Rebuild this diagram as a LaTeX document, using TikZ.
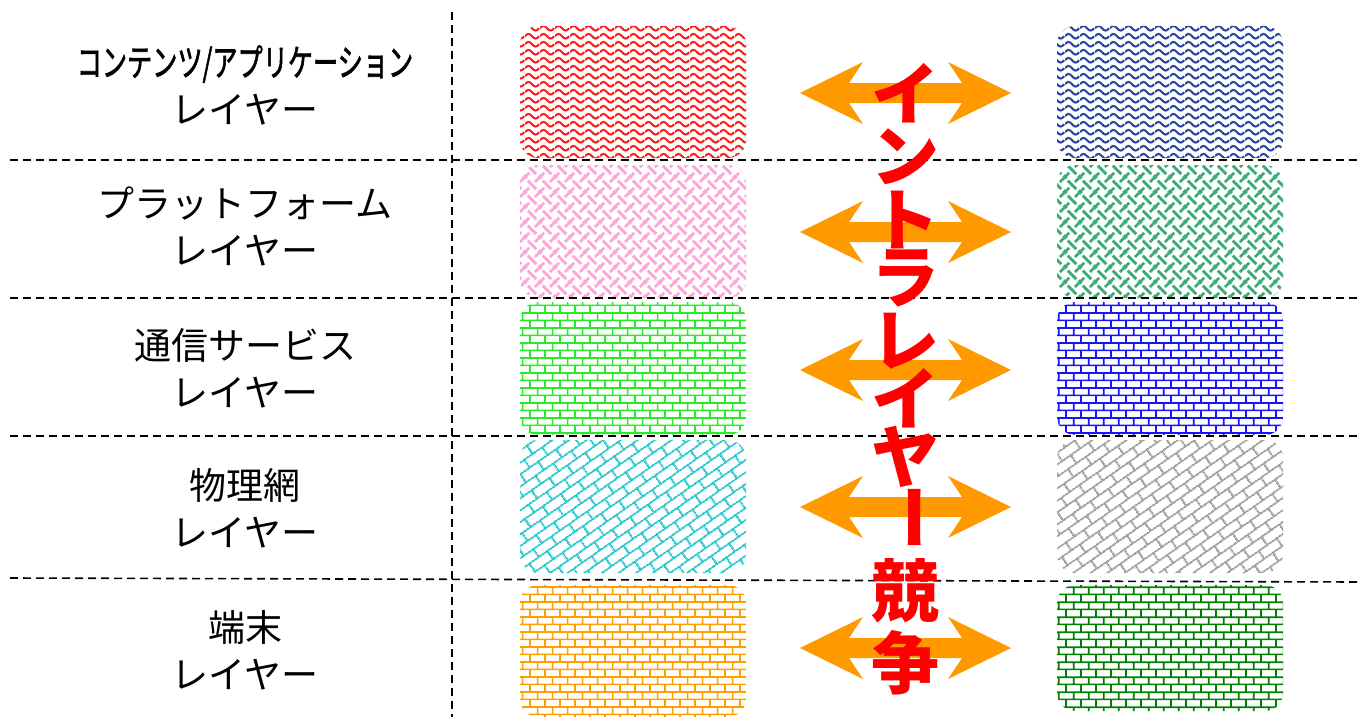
\documentclass[tikz,border=0pt]{standalone}
\usepackage{fontspec}
\newfontfamily\cjk{Noto Sans CJK JP}
\newfontfamily\cjkmed[FakeBold=2]{Noto Sans CJK JP}
\usetikzlibrary{patterns.meta}

\definecolor{wavered}{RGB}{255,30,30}
\definecolor{wavenavy}{RGB}{40,70,160}
\definecolor{weavepink}{RGB}{255,165,215}
\definecolor{weavegreen}{RGB}{60,170,120}
\definecolor{brickgreen}{RGB}{40,235,40}
\definecolor{brickblue}{RGB}{20,20,255}
\definecolor{diagcyan}{RGB}{40,200,205}
\definecolor{diaggray}{RGB}{160,160,160}
\definecolor{brickorange}{RGB}{255,160,0}
\definecolor{brickdkgreen}{RGB}{0,128,0}
\definecolor{arrowor}{RGB}{255,153,0}
\definecolor{textred}{RGB}{255,0,0}

\tikzdeclarepattern{
  name=wavep,
  type=uncolored,
  bottom left={(0pt,0pt)},
  top right={(15pt,8.2pt)},
  tile size={(15pt,8.2pt)},
  code={
    \draw[line width=2.2pt] (0pt,4.1pt) sin (3.75pt,6.7pt) cos (7.5pt,4.1pt) sin (11.25pt,1.5pt) cos (15pt,4.1pt);
  }
}

\tikzdeclarepattern{
  name=weavep,
  type=uncolored,
  bottom left={(0pt,0pt)},
  top right={(15pt,15pt)},
  tile size={(15pt,15pt)},
  code={
    \foreach \dx in {-15,0,15}{\foreach \dy in {-15,0,15}{
      \draw[line width=2.9pt,shift={(\dx pt,\dy pt)}] (0pt,0pt)--(4.5pt,4.5pt) (10.5pt,10.5pt)--(15pt,15pt) (3pt,12pt)--(12pt,3pt);
    }}
  }
}

\tikzdeclarepattern{
  name=brickp,
  type=uncolored,
  bottom left={(0pt,0pt)},
  top right={(15.3pt,15.2pt)},
  tile size={(15.3pt,15.2pt)},
  code={
    \draw[line width=1.8pt] (-1pt,3.8pt)--(16.3pt,3.8pt) (-1pt,11.4pt)--(16.3pt,11.4pt)
      (3.8pt,3.8pt)--(3.8pt,11.4pt) (11.45pt,11.4pt)--(11.45pt,16.2pt) (11.45pt,-1pt)--(11.45pt,3.8pt);
  }
}

\tikzdeclarepattern{
  name=diagbrickp,
  type=uncolored,
  bottom left={(0pt,0pt)},
  top right={(22pt,20pt)},
  tile size={(22pt,20pt)},
  tile transformation={rotate=35},
  code={
    \draw[line width=1.9pt] (-1pt,5pt)--(23pt,5pt) (-1pt,15pt)--(23pt,15pt)
      (5.5pt,5pt)--(5.5pt,15pt) (16.5pt,15pt)--(16.5pt,21pt) (16.5pt,-1pt)--(16.5pt,5pt);
  }
}

\tikzset{
  box/.style={rectangle, rounded corners=18pt, minimum width=226pt, inner sep=0pt, draw=none},
  lab/.style={align=center, inner sep=0pt, font=\cjk\fontsize{37}{47}\selectfont},
  redch/.style={inner sep=0pt, text=textred, font=\cjk\bfseries\fontsize{68}{68}\selectfont},
  sep/.style={line width=1.6pt, dash pattern=on 8pt off 5pt},
  dblarrow/.pic={
    \fill[arrowor] (-105.5,0) -- (-42.5,-31) -- (-56.5,-10) -- (56.5,-10) -- (42.5,-31)
      -- (105.5,0) -- (42.5,31) -- (56.5,10) -- (-56.5,10) -- (-42.5,31) -- cycle;
  }
}

\begin{document}
\begin{tikzpicture}[x=1pt,y=-1pt]
\useasboundingbox (0,0) rectangle (1359,717);
\fill[white] (0,0) rectangle (1359,717);

% pattern boxes
\node[box, minimum height=132pt, pattern=wavep, pattern color=wavered] (L1) at (633,92) {};
\node[box, minimum height=132pt, pattern=wavep, pattern color=wavenavy] (R1) at (1170,92) {};
\node[box, minimum height=133pt, pattern=weavep, pattern color=weavepink] (L2) at (633,231.5) {};
\node[box, minimum height=133pt, pattern=weavep, pattern color=weavegreen] (R2) at (1170,231.5) {};
\node[box, minimum height=133pt, pattern=brickp, pattern color=brickgreen] (L3) at (633,368.5) {};
\node[box, minimum height=133pt, pattern=brickp, pattern color=brickblue] (R3) at (1170,368.5) {};
\node[box, minimum height=133pt, pattern=diagbrickp, pattern color=diagcyan] (L4) at (633,506.5) {};
\node[box, minimum height=133pt, pattern=diagbrickp, pattern color=diaggray] (R4) at (1170,506.5) {};
\node[box, minimum height=132pt, pattern=brickp, pattern color=brickorange] (L5) at (633,651) {};
\node[box, minimum height=126pt, pattern=brickp, pattern color=brickdkgreen] (R5) at (1170,648) {};

% separators
\draw[sep] (452,12) -- (452,717);
\draw[sep] (10,160) -- (1359,160);
\draw[sep] (10,298) -- (1359,298);
\draw[sep] (10,436) -- (1359,436);
\draw[sep] (10,578) -- (1359,582);

% labels
\node[lab] (T1) at (245,85) {\scalebox{0.68}[1]{\cjkmed コンテンツ/アプリケーション}\\レイヤー};
\node[lab] (T2) at (245,226.5) {プラットフォーム\\レイヤー};
\node[lab] (T3) at (245,368.5) {通信サービス\\レイヤー};
\node[lab] (T4) at (245,508.5) {物理網\\レイヤー};
\node[lab] (T5) at (245,650) {端末\\レイヤー};

% arrows
\pic (A1) at (905.5,93) {dblarrow};
\pic (A2) at (905.5,232) {dblarrow};
\pic (A3) at (905.5,370) {dblarrow};
\pic (A4) at (905.5,507) {dblarrow};
\pic (A5) at (905.5,648) {dblarrow};

% vertical red text
\node[redch] (C0) at (905,93) {イ};
\node[redch] (C1) at (905,157) {ン};
\node[redch] (C2) at (905,220) {ト};
\node[redch] (C3) at (905,278) {ラ};
\node[redch] (C4) at (905,341) {レ};
\node[redch] (C5) at (905,398) {イ};
\node[redch] (C6) at (905,457) {ヤ};
\node[redch, rotate=-90] (C7) at (905,517) {ー};
\node[redch] (C8) at (905,591) {競};
\node[redch] (C9) at (905,663) {争};
\end{tikzpicture}
\end{document}
